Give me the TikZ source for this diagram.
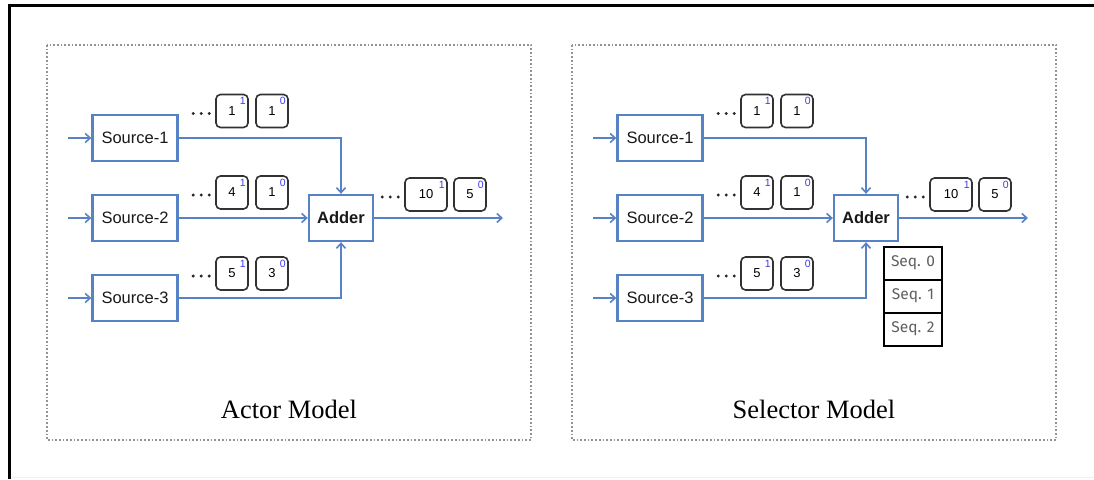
\documentclass[tikz,border=0pt]{standalone}
\usepackage{fontspec}
\setmainfont{Liberation Sans}
\newfontfamily\captionserif{Liberation Serif}
\newfontfamily\seqfont{Fira Sans}
\usetikzlibrary{arrows.meta}

\definecolor{flow}{RGB}{88,130,198}
\definecolor{tag}{RGB}{60,60,235}
\definecolor{msgedge}{RGB}{50,50,50}
\definecolor{seqtext}{RGB}{95,95,95}

\tikzset{
  unit/.style={draw=flow, line width=2.3pt, fill=white, minimum width=85pt,
    minimum height=46pt, inner sep=0pt, text=black!90,
    font=\fontsize{16.5}{18}\selectfont},
  adderbox/.style={unit, minimum width=64pt,
    font=\fontsize{16.5}{18}\selectfont\bfseries},
  link/.style={draw=flow, line width=1.9pt,
    -{Straight Barb[length=5pt,width=9pt,line width=1.6pt]}},
  msg/.style={draw=msgedge, line width=1.6pt, rounded corners=4.5pt, fill=white,
    minimum height=33pt, minimum width=32pt, inner sep=0pt,
    font=\fontsize{13}{14}\selectfont},
  tagnum/.style={text=tag, font=\fontsize{10.5}{11}\selectfont, inner sep=0pt},
  panelframe/.style={draw=gray!85, dotted, line width=1.7pt},
  seqbox/.style={draw=black, line width=2pt, minimum width=58pt,
    minimum height=33pt, inner sep=0pt, text=seqtext,
    font=\seqfont\fontsize{15.5}{17}\selectfont},
  caption/.style={font=\captionserif\fontsize{26.5}{28}\selectfont},
  dot/.style={fill=black!85},
}

% a message box with its sequence tag in the upper right corner and the
% trail of dots in front of it
\newcommand\leadmsg[5][]{%
  \node[msg,#1] (#2) at #3 {#4};
  \node[tagnum] (#2-t) at ([xshift=-6pt,yshift=-7.5pt]#2.north east) {#5};
  \foreach \dx in {-6,-14,-22}
    \fill[dot] ([xshift=\dx pt,yshift=-2.5pt]#2.west) circle (1.7pt);
}
% a message box with its sequence tag only
\newcommand\plainmsg[4]{%
  \node[msg] (#1) at #2 {#3};
  \node[tagnum] (#1-t) at ([xshift=-6pt,yshift=-7.5pt]#1.north east) {#4};
}

% sources, adder and the messages on each stream
\newcommand\flowpanel[1]{%
  \draw[panelframe] (47,45) rectangle (531,440);
  \node[unit] (s1) at (135,138) {Source-1};
  \node[unit] (s2) at (135,218) {Source-2};
  \node[unit] (s3) at (135,298) {Source-3};
  \node[adderbox] (add) at (341,218) {Adder};
  \coordinate (i1) at (68,138);
  \coordinate (i2) at (68,218);
  \coordinate (i3) at (68,298);
  \coordinate (out) at (503,218);
  \draw[link] (i1) -- (s1);
  \draw[link] (i2) -- (s2);
  \draw[link] (i3) -- (s3);
  \draw[link] (s1.east) -| (add.north);
  \draw[link] (s2) -- (add);
  \draw[link] (s3.east) -| (add.south);
  \draw[link] (add) -- (out);
  \leadmsg{m11}{(232,111)}{1}{1}
  \plainmsg{m12}{(272,111)}{1}{0}
  \leadmsg{m21}{(232,192.5)}{4}{1}
  \plainmsg{m22}{(272,192.5)}{1}{0}
  \leadmsg{m31}{(232,273.5)}{5}{1}
  \plainmsg{m32}{(272,273.5)}{3}{0}
  \leadmsg[minimum width=42pt]{r1}{(426,194.5)}{10}{1}
  \plainmsg{r2}{(470,194.5)}{5}{0}
  \node[caption] (cap) at (289,409) {#1};
}

\begin{document}
\begin{tikzpicture}[x=1pt,y=-1pt]
  \useasboundingbox (0,0) rectangle (1094,479);
  \fill[white] (0,0) rectangle (1094,479);
  % window edges
  \draw[line width=3pt] (8,5) -- (1094,5);
  \draw[line width=3pt] (9.5,3.5) -- (9.5,479);
  \draw[gray!12, line width=1pt] (11,477.5) -- (1094,477.5);

  \begin{scope}[name prefix=actor-]
    \flowpanel{Actor Model}
  \end{scope}

  \begin{scope}[xshift=525pt, name prefix=selector-]
    \flowpanel{Selector Model}
    \node[seqbox] (seq0) at (388,263) {Seq. 0};
    \node[seqbox] (seq1) at (388,296) {Seq. 1};
    \node[seqbox] (seq2) at (388,329) {Seq. 2};
  \end{scope}
\end{tikzpicture}
\end{document}
